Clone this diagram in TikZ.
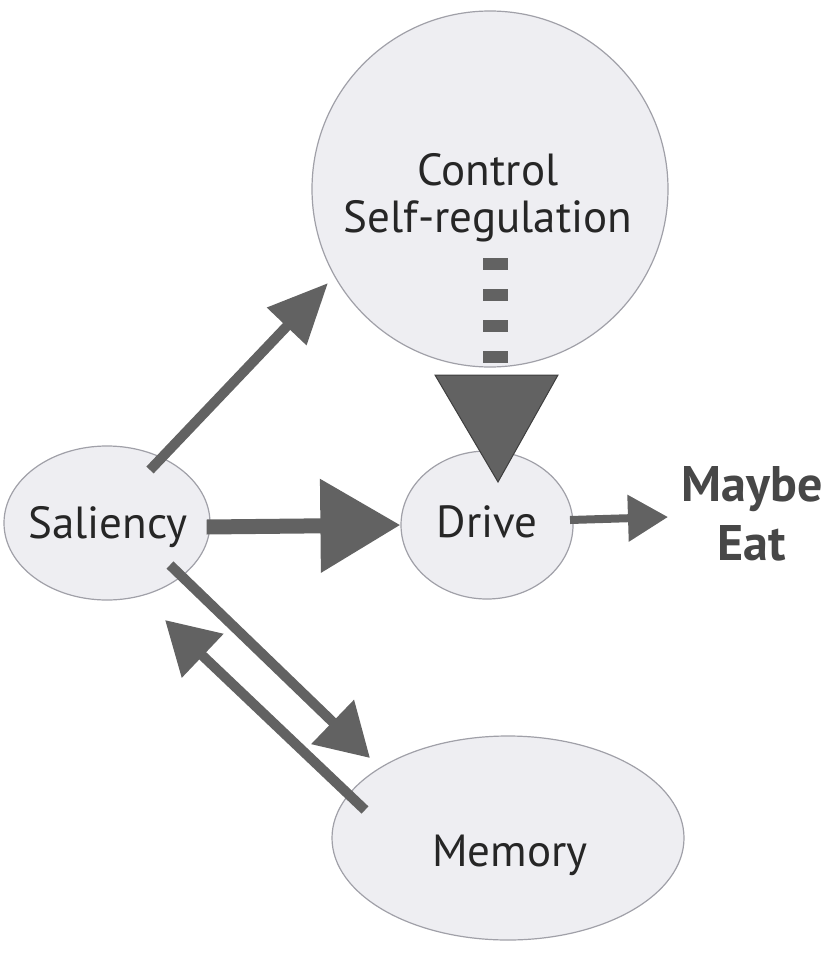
\documentclass[tikz,border=0pt]{standalone}
\usepackage{fontspec}
\setmainfont{PT Sans}
\usetikzlibrary{arrows.meta,calc,shapes.geometric}
\definecolor{bubble}{HTML}{EEEEF2}
\definecolor{rim}{HTML}{A0A0A8}
\definecolor{arr}{HTML}{626262}
\definecolor{arrline}{HTML}{3E3E3E}
\tikzset{
  bub/.style={draw=rim, line width=1.2pt, fill=bubble, inner sep=0pt},
  lbl/.style={font=\fontsize{45}{47}\selectfont, text=black!85, align=center, inner sep=0pt},
  conn/.style={draw=arr, line width=#1},
  bigtip/.style={fill=arr, draw=arrline, line width=1pt},
}
\begin{document}
\begin{tikzpicture}[x=1pt,y=-1pt]
\useasboundingbox (0,0) rectangle (837,971);
% bubbles
\node[bub, circle, minimum size=356pt] (ctrl) at (490,189) {};
\node[bub, ellipse, minimum width=206pt, minimum height=154pt] (sal) at (107,523) {};
\node[bub, ellipse, minimum width=172pt, minimum height=148pt] (drive) at (487,525) {};
\node[bub, ellipse, minimum width=352pt, minimum height=204pt] (mem) at (508,838) {};
% labels
\node[lbl] (ctrltxt) at (488,198) {Control\\Self-regulation};
\node[lbl] (saltxt) at (108,527) {Saliency};
\node[lbl] (drivetxt) at (487,522) {Drive};
\node[lbl] (memtxt) at (510,855) {Memory};
\node[lbl, font=\fontsize{50}{59}\selectfont\bfseries, text=black!72] (eat) at (752,514) {Maybe\\Eat};
% connector end points
\coordinate (s1) at (150,470);
\coordinate (c1) at (328,283);
\coordinate (s2) at (170,565);
\coordinate (m1) at (370,758);
\coordinate (m2) at (365,810);
\coordinate (s3) at (165,620);
\coordinate (ds) at (495,258);
\coordinate (de) at (495,368);
\coordinate (dtip) at (498,482);
\coordinate (e0) at (570,520);
\coordinate (e1) at (668,517);
% Saliency -> Control
\draw[conn=10pt, -{Triangle[length=60pt,width=52pt,fill=arr]}] (s1) -- (c1);
% Saliency -> Drive
\draw[conn=15pt, -{Triangle[length=80pt,width=90pt,fill=arr]}] ($(sal.east)+(-4,4)$) -- (drive.west);
% Drive -> Maybe Eat
\draw[conn=8pt, -{Triangle[length=40pt,width=45pt,fill=arr]}] (e0) -- (e1);
% Saliency -> Memory
\draw[conn=10pt, -{Triangle[length=52pt,width=59pt,fill=arr]}] (s2) -- (m1);
% Memory -> Saliency
\draw[conn=10pt, -{Triangle[length=52pt,width=58pt,fill=arr]}] (m2) -- (s3);
% Control -> Drive (dashed)
\draw[draw=arr, line width=25pt, dash pattern=on 12pt off 19pt] (ds) -- (de);
\draw[bigtip] (435,375) -- (558,375) -- (dtip) -- cycle;
\end{tikzpicture}
\end{document}
